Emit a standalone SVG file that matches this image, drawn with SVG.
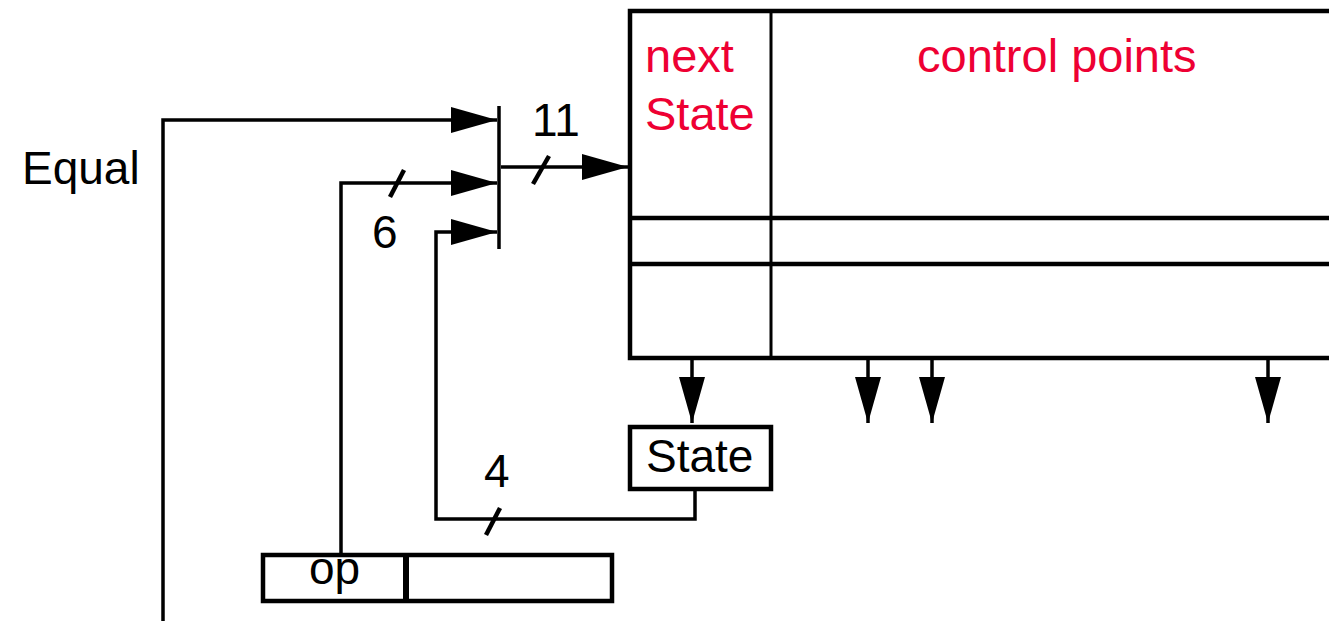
<svg xmlns="http://www.w3.org/2000/svg" width="1329" height="621" viewBox="0 0 1329 621">
<style>
.t{font-family:"Liberation Sans",Arial,sans-serif;font-size:46px;fill:#000}
.r{font-family:"Liberation Sans",Arial,sans-serif;font-size:47px;fill:#ee0033}
.box{fill:#fff;stroke:#000;stroke-width:4.5}
.ln{fill:none;stroke:#000;stroke-width:3.5}
.sl{fill:none;stroke:#000;stroke-width:4.5}
</style>
<defs>
<marker id="ah" viewBox="0 0 46 26" refX="46" refY="13" markerWidth="46" markerHeight="26" markerUnits="userSpaceOnUse" orient="auto">
<path d="M0,0 L46,13 L0,26 z" fill="#000"/>
</marker>
</defs>
<g id="control-store">
<rect x="630" y="11" width="720" height="347" class="box"/>
<line x1="630" y1="218" x2="1340" y2="218" stroke="#000" stroke-width="4.5"/>
<line x1="630" y1="264" x2="1340" y2="264" stroke="#000" stroke-width="4.5"/>
<line x1="771" y1="11" x2="771" y2="358" stroke="#000" stroke-width="3"/>
<text x="645" y="72" class="r">next</text>
<text x="645" y="130" class="r">State</text>
<text x="917" y="72" class="r">control points</text>
</g>
<g id="state">
<rect x="630" y="427" width="141" height="62" class="box"/>
<text x="646" y="472" class="t">State</text>
</g>
<g id="ir">
<rect x="263" y="555" width="349" height="46" class="box"/>
<line x1="406" y1="555" x2="406" y2="601" stroke="#000" stroke-width="6"/>
<text x="309" y="584" class="t">op</text>
</g>
<g id="merge">
<line x1="499" y1="106" x2="499" y2="249" stroke="#000" stroke-width="3.5"/>
</g>
<g id="labels">
<text x="22" y="184" class="t">Equal</text>
<text x="532" y="136" class="t">11</text>
<text x="372" y="248" class="t">6</text>
<text x="484" y="487" class="t">4</text>
</g>
<g id="connectors">
<polyline points="163,621 163,120 497,120" class="ln" marker-end="url(#ah)"/>
<polyline points="341,555 341,183 497,183" class="ln" marker-end="url(#ah)"/>
<polyline points="695,489 695,519 436,519 436,232 497,232" class="ln" marker-end="url(#ah)"/>
<line x1="501" y1="167" x2="628" y2="167" class="ln" marker-end="url(#ah)"/>
<line x1="692" y1="358" x2="692" y2="423" class="ln" marker-end="url(#ah)"/>
<line x1="868" y1="358" x2="868" y2="423" class="ln" marker-end="url(#ah)"/>
<line x1="932" y1="358" x2="932" y2="423" class="ln" marker-end="url(#ah)"/>
<line x1="1268" y1="358" x2="1268" y2="423" class="ln" marker-end="url(#ah)"/>
<line x1="533" y1="184" x2="549" y2="156" class="sl"/>
<line x1="390" y1="197" x2="404" y2="170" class="sl"/>
<line x1="486" y1="535" x2="500" y2="508" class="sl"/>
</g>
</svg>
